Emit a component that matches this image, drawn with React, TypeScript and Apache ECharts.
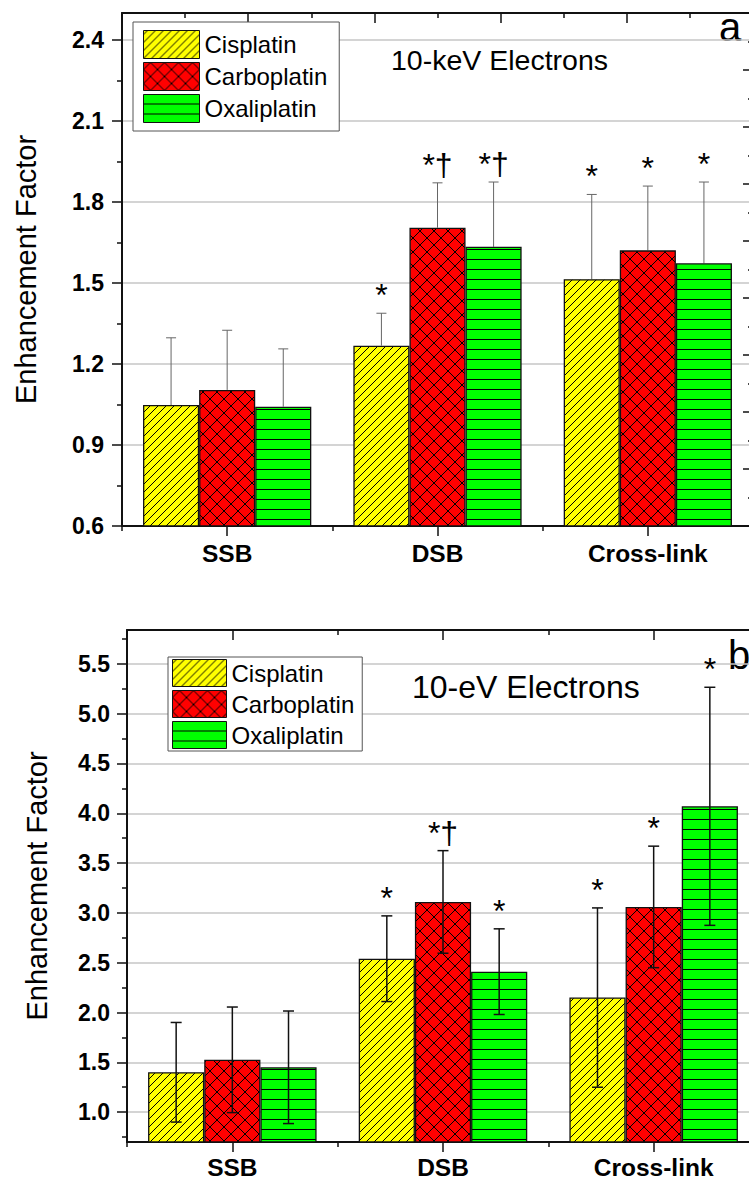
import React, { useEffect, useRef } from 'react';
import * as echarts from 'echarts';

const FONT = '"Liberation Sans", Arial, Helvetica, sans-serif';

const categories = ['SSB', 'DSB', 'Cross-link'];
const drugs = ['Cisplatin', 'Carboplatin', 'Oxaliplatin'];

// Panel a: 10-keV electrons (mean, upper error, significance marks)
const keVCisplatin = [1.048, 1.268, 1.514];
const keVCarboplatin = [1.104, 1.705, 1.621];
const keVOxaliplatin = [1.042, 1.634, 1.573];
const keVCisplatinErr = [0.249, 0.12, 0.314];
const keVCarboplatinErr = [0.221, 0.166, 0.238];
const keVOxaliplatinErr = [0.214, 0.24, 0.301];
const keVCisplatinMarks = ['', '*', '*'];
const keVCarboplatinMarks = ['', '*†', '*'];
const keVOxaliplatinMarks = ['', '*†', '*'];

// Panel b: 10-eV electrons (mean, symmetric error, significance marks)
const eVCisplatin = [1.4, 2.54, 2.15];
const eVCarboplatin = [1.525, 3.11, 3.06];
const eVOxaliplatin = [1.45, 2.41, 4.07];
const eVCisplatinErr = [0.5, 0.43, 0.9];
const eVCarboplatinErr = [0.53, 0.515, 0.61];
const eVOxaliplatinErr = [0.565, 0.43, 1.195];
const eVCisplatinMarks = ['', '*', '*'];
const eVCarboplatinMarks = ['', '*†', '*'];
const eVOxaliplatinMarks = ['', '*', '*'];

// Axis ticks
const keVTicks = [0.6, 0.9, 1.2, 1.5, 1.8, 2.1, 2.4];
const keVMinorTicks = [0.75, 1.05, 1.35, 1.65, 1.95, 2.25];
const eVTicks = [1.0, 1.5, 2.0, 2.5, 3.0, 3.5, 4.0, 4.5, 5.0, 5.5];
const eVMinorTicks = [0.75, 1.25, 1.75, 2.25, 2.75, 3.25, 3.75, 4.25, 4.75, 5.25, 5.75];

const keVRange = [0.6, 2.5];
const eVRange = [0.7, 5.84];

function makePattern(kind: string, bg: string) {
  const size = kind === 'diag' ? 8 : kind === 'cross' ? 14 : 10;
  const h = size / 2;
  const c = document.createElement('canvas');
  c.width = size;
  c.height = size;
  const ctx = c.getContext('2d')!;
  ctx.fillStyle = bg;
  ctx.fillRect(0, 0, size, size);
  ctx.strokeStyle = '#000';
  ctx.lineWidth = 1;
  ctx.beginPath();
  const slash = (k: number) => {
    // line x + y = k
    ctx.moveTo(k + 3, -3);
    ctx.lineTo(k - size - 3, size + 3);
  };
  const back = (k: number) => {
    // line x - y = k
    ctx.moveTo(k - 3, -3);
    ctx.lineTo(k + size + 3, size + 3);
  };
  if (kind === 'diag') {
    slash(h);
    slash(size + h);
  } else if (kind === 'cross') {
    slash(h);
    slash(size + h);
    back(h);
    back(-h);
  } else {
    ctx.moveTo(0, size - 0.5);
    ctx.lineTo(size, size - 0.5);
  }
  ctx.stroke();
  return { image: c, repeat: 'repeat', imageWidth: size, imageHeight: size } as any;
}

export default function App() {
  const ref = useRef<HTMLDivElement>(null);

  useEffect(() => {
    document.body.style.margin = '0';
    if (!ref.current) return;
    const chart = echarts.init(ref.current, undefined, { renderer: 'svg' });

    const patterns = [
      makePattern('diag', '#ffff00'),
      makePattern('cross', '#ff0000'),
      makePattern('horiz', '#00ff00'),
    ];

    const axisLineStyle = { color: '#111', width: 2 };
    const tickStyle = { color: '#111', width: 1.5 };
    const splitStyle = { color: '#c6c6c6', width: 1.5 };

    const keVMeans = [keVCisplatin, keVCarboplatin, keVOxaliplatin];
    const keVErrs = [keVCisplatinErr, keVCarboplatinErr, keVOxaliplatinErr];
    const keVMarks = [keVCisplatinMarks, keVCarboplatinMarks, keVOxaliplatinMarks];
    const eVMeans = [eVCisplatin, eVCarboplatin, eVOxaliplatin];
    const eVErrs = [eVCisplatinErr, eVCarboplatinErr, eVOxaliplatinErr];
    const eVMarks = [eVCisplatinMarks, eVCarboplatinMarks, eVOxaliplatinMarks];

    const barSeries = (xi: number, yi: number, means: number[][]) =>
      means.map((d, k) => ({
        type: 'bar',
        name: drugs[k],
        xAxisIndex: xi,
        yAxisIndex: yi,
        data: d,
        barGap: '0%',
        barCategoryGap: '20%',
        z: 3,
        itemStyle: { color: patterns[k], borderColor: '#111', borderWidth: 1.3 },
        emphasis: { disabled: true },
      }));

    const errSeries = (
      xi: number,
      yi: number,
      means: number[][],
      errs: number[][],
      marks: string[][],
      both: boolean
    ) =>
      means.map((d, k) => ({
        type: 'custom',
        xAxisIndex: xi,
        yAxisIndex: yi,
        z: both ? 6 : 1,
        silent: true,
        data: d.map((m, i) => [i, m, errs[k][i]]),
        encode: { x: 0, y: 1 },
        renderItem: (params: any, api: any) => {
          const cat = api.value(0);
          const mean = api.value(1);
          const err = api.value(2);
          const mark = marks[k][params.dataIndex];
          const band = api.size([1, 0])[0];
          const barW = (band * 0.8) / 3;
          const cx = api.coord([cat, mean])[0];
          const x = cx + (k - 1) * barW;
          const yTop = api.coord([cat, mean + err])[1];
          const yBot = api.coord([cat, both ? mean - err : mean])[1];
          const stroke = both ? '#111' : '#666';
          const lw = both ? 1.5 : 1;
          const cap = both ? 5.5 : 5;
          const children: any[] = [
            { type: 'line', shape: { x1: x, y1: yTop, x2: x, y2: yBot }, style: { stroke, lineWidth: lw } },
            { type: 'line', shape: { x1: x - cap, y1: yTop, x2: x + cap, y2: yTop }, style: { stroke, lineWidth: lw } },
          ];
          if (both) {
            children.push({
              type: 'line',
              shape: { x1: x - cap, y1: yBot, x2: x + cap, y2: yBot },
              style: { stroke, lineWidth: lw },
            });
          }
          if (mark) {
            children.push({
              type: 'text',
              x,
              y: yTop - 2,
              style: {
                text: mark,
                fontSize: 32,
                fontFamily: FONT,
                fill: '#000',
                align: 'center',
                verticalAlign: 'bottom',
              },
            });
          }
          return { type: 'group', children };
        },
      }));

    const catAxis = (gi: number, pos: string, labels: boolean, margin = 15) => ({
      type: 'category',
      gridIndex: gi,
      position: pos,
      data: categories,
      axisLine: { show: true, onZero: false, lineStyle: axisLineStyle },
      axisTick: { show: true, alignWithLabel: true, inside: pos === 'top', length: 10, lineStyle: tickStyle },
      axisLabel: labels
        ? { show: true, margin, fontSize: 24.5, fontWeight: 'bold', color: '#000', fontFamily: FONT }
        : { show: false },
      splitLine: { show: false },
    });
    const boundAxis = (gi: number, pos: string) => ({
      type: 'value',
      gridIndex: gi,
      position: pos,
      min: 0,
      max: 3,
      interval: 1,
      axisLine: { show: false, onZero: false },
      axisTick: { show: true, inside: pos === 'top', length: 5, lineStyle: tickStyle },
      axisLabel: { show: false },
      splitLine: { show: false },
    });

    const mainY = (gi: number, range: number[], ticks: number[], margin: number) => ({
      type: 'value',
      gridIndex: gi,
      position: 'left',
      min: range[0],
      max: range[1],
      axisLine: { show: true, onZero: false, lineStyle: axisLineStyle },
      axisTick: { show: true, customValues: ticks, length: 10, lineStyle: tickStyle },
      axisLabel: {
        show: true,
        customValues: ticks,
        formatter: (v: number) => v.toFixed(1),
        margin,
        fontSize: 23,
        fontWeight: 'bold',
        color: '#000',
        fontFamily: FONT,
      },
      splitLine: { show: true, lineStyle: splitStyle },
    });
    const minorY = (gi: number, range: number[], ticks: number[]) => ({
      type: 'value',
      gridIndex: gi,
      position: 'left',
      min: range[0],
      max: range[1],
      axisLine: { show: false, onZero: false },
      axisTick: { show: true, customValues: ticks, length: 5, lineStyle: tickStyle },
      axisLabel: { show: false },
      splitLine: { show: false },
    });

    const legendBase = {
      data: drugs,
      orient: 'vertical',
      icon: 'rect',
      itemGap: 3,
      borderColor: '#555',
      borderWidth: 1,
      backgroundColor: '#fff',
      selectedMode: false,
      textStyle: { fontSize: 24, color: '#000', fontFamily: FONT },
      itemStyle: { borderColor: '#111', borderWidth: 1 },
    };

    const option: any = {
      animation: false,
      textStyle: { fontFamily: FONT },
      grid: [
        { left: 122, top: 13, width: 631, height: 513, outerBoundsMode: 'none' },
        { left: 127, top: 630, width: 632, height: 512, outerBoundsMode: 'none' },
      ],
      legend: [
        { ...legendBase, left: 133, top: 22, itemWidth: 56, itemHeight: 28, padding: [8, 12, 8, 10] },
        { ...legendBase, left: 168, top: 657, itemWidth: 54, itemHeight: 27, padding: [2, 8, 2, 4] },
      ],
      xAxis: [
        catAxis(0, 'bottom', true, 15), // 0
        boundAxis(0, 'bottom'), // 1
        {
          type: 'value',
          gridIndex: 0,
          position: 'top',
          min: 0,
          max: 10,
          interval: 2,
          axisLine: { show: true, onZero: false, lineStyle: axisLineStyle },
          axisTick: { show: true, inside: true, length: 10, lineStyle: tickStyle },
          minorTick: { show: true, splitNumber: 2, length: 5, lineStyle: tickStyle },
          axisLabel: { show: false },
          splitLine: { show: false },
        }, // 2
        catAxis(1, 'bottom', true, 13), // 3
        boundAxis(1, 'bottom'), // 4
        catAxis(1, 'top', false), // 5
        boundAxis(1, 'top'), // 6
      ],
      yAxis: [
        mainY(0, keVRange, keVTicks, 18), // 0
        minorY(0, keVRange, keVMinorTicks), // 1
        {
          type: 'value',
          gridIndex: 0,
          position: 'right',
          min: 0,
          max: 9,
          interval: 1,
          axisLine: { show: true, onZero: false, lineStyle: axisLineStyle },
          axisTick: { show: true, inside: true, length: 10, lineStyle: tickStyle },
          minorTick: { show: true, splitNumber: 2, length: 5, lineStyle: tickStyle },
          axisLabel: { show: false },
          splitLine: { show: false },
        }, // 2
        mainY(1, eVRange, eVTicks, 17), // 3
        minorY(1, eVRange, eVMinorTicks), // 4
        {
          type: 'value',
          gridIndex: 1,
          position: 'right',
          min: eVRange[0],
          max: eVRange[1],
          axisLine: { show: true, onZero: false, lineStyle: axisLineStyle },
          axisTick: { show: true, inside: true, customValues: eVTicks, length: 10, lineStyle: tickStyle },
          axisLabel: { show: false },
          splitLine: { show: false },
        }, // 5
      ],
      series: [
        ...barSeries(0, 0, keVMeans),
        ...errSeries(0, 0, keVMeans, keVErrs, keVMarks, false),
        ...barSeries(3, 3, eVMeans),
        ...errSeries(3, 3, eVMeans, eVErrs, eVMarks, true),
      ],
      graphic: [
        {
          type: 'text',
          x: 26,
          y: 269.5,
          rotation: Math.PI / 2,
          style: { text: 'Enhancement Factor', fontSize: 29, fontFamily: FONT, fill: '#000', align: 'center', verticalAlign: 'middle' },
        },
        {
          type: 'text',
          x: 37,
          y: 886,
          rotation: Math.PI / 2,
          style: { text: 'Enhancement Factor', fontSize: 29, fontFamily: FONT, fill: '#000', align: 'center', verticalAlign: 'middle' },
        },
        {
          type: 'text',
          x: 391,
          y: 60,
          style: { text: '10-keV Electrons', fontSize: 28.5, fontFamily: FONT, fill: '#000', align: 'left', verticalAlign: 'middle' },
        },
        {
          type: 'text',
          x: 412,
          y: 687,
          style: { text: '10-eV Electrons', fontSize: 32, fontFamily: FONT, fill: '#000', align: 'left', verticalAlign: 'middle' },
        },
        {
          type: 'text',
          x: 719,
          y: 27,
          style: { text: 'a', fontSize: 40, fontFamily: FONT, fill: '#000', align: 'left', verticalAlign: 'middle' },
        },
        {
          type: 'text',
          x: 728,
          y: 655,
          style: { text: 'b', fontSize: 40, fontFamily: FONT, fill: '#000', align: 'left', verticalAlign: 'middle' },
        },
      ],
    };

    chart.setOption(option);
    return () => chart.dispose();
  }, []);

  return <div ref={ref} style={{ width: 749, height: 1182 }} />;
}
